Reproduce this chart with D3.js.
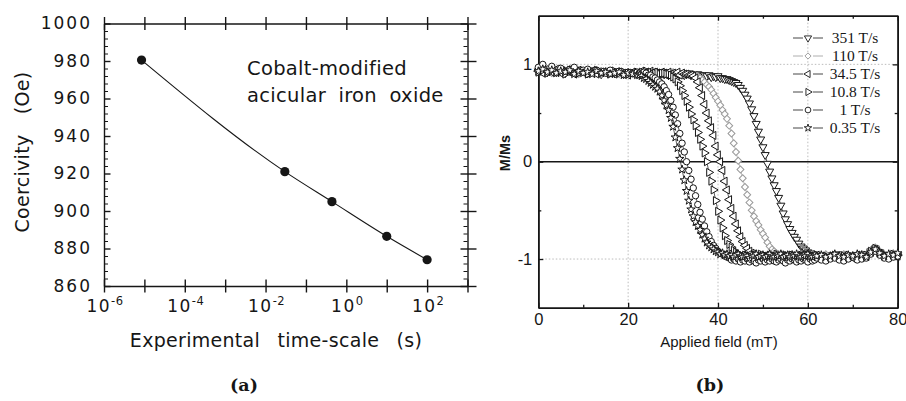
<!DOCTYPE html>
<html>
<head>
<meta charset="utf-8">
<script src="https://cdn.jsdelivr.net/npm/d3@7"></script>
<style>
  body { margin: 0; background: #fff; }
  svg { display: block; }
</style>
</head>
<body>
<svg id="chart"></svg>
<script>
// ---- panel (a): coercivity vs experimental time-scale ----
const timeScales = [8.5e-6, 0.03, 0.44, 10, 100];
const coercivity = [980.5, 921, 905, 886.5, 874];
const coerTicks = [860, 880, 900, 920, 940, 960, 980, 1000];
const timeLabelExps = [-6, -4, -2, 0, 2];

// ---- panel (b): M/Ms vs applied field, one array per sweep rate ----
const fields = [
  0,1,2,3,4,5,6,7,8,9,10,11,12,13,14,15,16,17,18,19,20,21,22,
  22.5,23,23.5,24,24.5,25,25.5,26,26.5,27,
  27.5,28,28.5,29,29.5,30,30.5,31,31.5,32,
  32.5,33,33.5,34,34.5,35,35.5,36,36.5,37,
  37.5,38,38.5,39,39.5,40,40.5,41,41.5,42,
  42.5,43,43.5,44,44.5,45,45.5,46,46.5,47,
  47.5,48,48.5,49,49.5,50,50.5,51,51.5,52,
  52.5,53,53.5,54,54.5,55,55.5,56,56.5,57,
  57.5,58,58.5,59,59.5,60,60.5,61,61.5,62,
  63,64,65,66,67,68,69,70,71,72,73,74,75,76,77,78,79,80
];
const rateLabels = ["351 T/s", "110 T/s", "34.5 T/s", "10.8 T/s", "1 T/s", "0.35 T/s"];

const m351 = [
  0.93,0.95,0.92,0.94,0.92,0.95,0.91,0.93,0.94,0.92,0.93,0.91,0.94,0.92,0.90,0.93,0.92,0.91,0.93,0.90,0.92,0.91,0.90,
  0.91,0.92,0.90,0.91,0.92,0.90,0.91,0.90,0.92,0.90,
  0.91,0.90,0.92,0.89,0.91,0.90,0.91,0.89,0.90,0.91,
  0.89,0.90,0.91,0.89,0.90,0.88,0.90,0.89,0.88,0.89,
  0.88,0.89,0.87,0.88,0.87,0.88,0.86,0.86,0.85,0.85,
  0.84,0.83,0.82,0.81,0.79,0.76,0.73,0.69,0.65,0.60,
  0.54,0.47,0.39,0.31,0.23,0.15,0.07,-0.02,-0.10,-0.17,
  -0.24,-0.30,-0.37,-0.45,-0.53,-0.59,-0.64,-0.69,-0.73,-0.77,
  -0.80,-0.84,-0.87,-0.89,-0.91,-0.93,-0.94,-0.95,-0.96,-0.96,
  -0.97,-0.96,-0.98,-0.97,-0.95,-0.97,-0.98,-0.96,-0.97,-0.95,-0.97,-0.92,-0.89,-0.93,-0.96,-0.97,-0.95,-0.96
];
const m110 = [
  0.94,0.92,0.95,0.91,0.93,0.94,0.91,0.92,0.93,0.90,0.92,0.94,0.91,0.92,0.90,0.93,0.91,0.92,0.90,0.91,0.92,0.90,0.91,
  0.92,0.91,0.93,0.90,0.92,0.91,0.90,0.92,0.91,0.90,
  0.91,0.92,0.90,0.91,0.89,0.92,0.90,0.91,0.90,0.89,
  0.91,0.90,0.90,0.90,0.89,0.89,0.88,0.86,0.84,0.82,
  0.79,0.77,0.74,0.70,0.66,0.62,0.58,0.53,0.49,0.44,
  0.37,0.29,0.19,0.10,0.01,-0.08,-0.17,-0.26,-0.34,-0.42,
  -0.50,-0.56,-0.61,-0.65,-0.70,-0.74,-0.78,-0.83,-0.87,-0.90,
  -0.92,-0.94,-0.95,-0.96,-0.95,-0.97,-0.96,-0.98,-0.95,-0.97,
  -0.96,-0.98,-0.95,-0.97,-0.96,-0.98,-0.97,-0.95,-0.97,-0.96,
  -0.97,-0.95,-0.98,-0.96,-0.97,-0.95,-0.97,-0.96,-0.98,-0.95,-0.96,-0.91,-0.88,-0.92,-0.95,-0.96,-0.94,-0.95
];
const m34 = [
  0.93,0.91,0.94,0.92,0.95,0.91,0.93,0.92,0.90,0.94,0.92,0.91,0.93,0.90,0.92,0.91,0.93,0.90,0.92,0.91,0.89,0.92,0.90,
  0.91,0.93,0.90,0.92,0.91,0.93,0.90,0.92,0.91,0.90,
  0.92,0.91,0.89,0.92,0.90,0.91,0.90,0.92,0.89,0.91,
  0.90,0.90,0.89,0.89,0.88,0.86,0.82,0.76,0.68,0.59,
  0.50,0.42,0.35,0.27,0.16,0.07,0.00,-0.09,-0.20,-0.29,
  -0.39,-0.48,-0.56,-0.64,-0.71,-0.77,-0.82,-0.86,-0.89,-0.92,
  -0.94,-0.95,-0.97,-0.96,-0.98,-0.97,-0.99,-0.96,-0.98,-0.97,
  -0.99,-0.97,-0.98,-1.00,-0.97,-0.98,-0.96,-0.99,-0.97,-0.98,
  -1.00,-0.97,-0.98,-0.96,-0.99,-0.98,-0.97,-0.99,-0.98,-0.96,
  -0.98,-0.99,-0.97,-0.98,-1.00,-0.97,-0.98,-0.99,-0.96,-0.98,-0.97,-0.93,-0.90,-0.94,-0.97,-0.98,-0.96,-0.97
];
const m108 = [
  0.92,0.94,0.91,0.95,0.92,0.93,0.90,0.94,0.92,0.91,0.93,0.90,0.92,0.94,0.91,0.92,0.90,0.93,0.91,0.92,0.90,0.91,0.92,
  0.91,0.92,0.90,0.93,0.91,0.92,0.90,0.91,0.92,0.90,
  0.91,0.91,0.90,0.90,0.89,0.87,0.85,0.82,0.78,0.73,
  0.68,0.62,0.56,0.49,0.43,0.37,0.30,0.23,0.16,0.09,
  0.00,-0.11,-0.20,-0.29,-0.40,-0.51,-0.60,-0.68,-0.76,-0.81,
  -0.85,-0.88,-0.91,-0.93,-0.95,-0.96,-0.97,-0.96,-0.98,-0.97,
  -0.99,-0.96,-0.98,-0.97,-0.95,-0.98,-0.97,-0.99,-0.96,-0.98,
  -0.97,-0.95,-0.98,-0.97,-0.99,-0.96,-0.97,-0.98,-0.96,-0.99,
  -0.97,-0.98,-0.96,-0.97,-0.99,-0.97,-0.96,-0.98,-0.97,-0.96,
  -0.98,-0.97,-0.99,-0.96,-0.98,-0.97,-0.96,-0.98,-0.97,-0.98,-0.96,-0.92,-0.89,-0.93,-0.96,-0.97,-0.95,-0.96
];
const m1 = [
  0.97,1.00,0.95,0.98,0.94,0.96,0.93,0.95,0.97,0.92,0.94,0.95,0.92,0.94,0.93,0.91,0.94,0.92,0.93,0.90,0.92,0.91,0.92,
  0.91,0.90,0.92,0.91,0.89,0.89,0.87,0.86,0.84,0.82,
  0.80,0.77,0.73,0.69,0.63,0.56,0.48,0.39,0.29,0.19,
  0.10,0.00,-0.09,-0.18,-0.27,-0.35,-0.44,-0.52,-0.59,-0.66,
  -0.72,-0.77,-0.82,-0.86,-0.89,-0.92,-0.94,-0.95,-0.97,-0.98,
  -0.99,-1.01,-1.00,-1.02,-1.00,-1.03,-1.01,-1.02,-1.00,-1.03,
  -1.01,-1.02,-1.04,-1.01,-1.02,-1.00,-1.03,-1.01,-1.02,-1.00,
  -1.02,-1.03,-1.01,-1.00,-1.02,-1.04,-1.01,-1.02,-1.00,-1.01,
  -1.03,-1.01,-1.02,-1.00,-1.01,-1.03,-1.00,-1.02,-1.01,-0.99,
  -1.01,-1.02,-1.00,-0.99,-1.01,-1.02,-1.00,-0.98,-1.01,-1.00,-0.99,-0.95,-0.92,-0.96,-0.99,-1.00,-0.98,-0.97
];
const m035 = [
  0.93,0.95,0.92,0.94,0.91,0.93,0.92,0.94,0.90,0.93,0.91,0.92,0.90,0.93,0.91,0.92,0.90,0.91,0.92,0.89,0.91,0.90,0.89,
  0.89,0.88,0.86,0.85,0.83,0.81,0.79,0.77,0.75,0.72,
  0.68,0.63,0.58,0.53,0.45,0.36,0.25,0.14,0.03,-0.08,
  -0.19,-0.30,-0.40,-0.49,-0.56,-0.62,-0.66,-0.70,-0.75,-0.79,
  -0.83,-0.86,-0.88,-0.90,-0.92,-0.93,-0.95,-0.94,-0.96,-0.95,
  -0.97,-0.96,-0.98,-0.96,-0.95,-0.97,-0.98,-0.96,-0.97,-0.99,
  -0.96,-0.97,-0.95,-0.98,-0.97,-0.96,-0.98,-0.97,-0.95,-0.97,
  -0.98,-0.96,-0.97,-0.95,-0.98,-0.97,-0.96,-0.98,-0.96,-0.97,
  -0.95,-0.97,-0.98,-0.96,-0.97,-0.95,-0.97,-0.98,-0.96,-0.97,
  -0.96,-0.98,-0.97,-0.95,-0.97,-0.98,-0.96,-0.97,-0.95,-0.96,-0.98,-0.93,-0.90,-0.94,-0.97,-0.95,-0.96,-0.94
];
const fieldTicks = [0, 20, 40, 60, 80];
const fieldMinor = [10, 30, 50, 70];
const mTicks = [-1, 0, 1];
const mMinor = [-0.5, 0.5];
const gridFields = [20, 40, 60];
const gridM = [-1, 1];

// ---------------------------------------------------------------
const W = 906, H = 401;
const ink = "#161616";
const svg = d3.select("#chart").attr("width", W).attr("height", H);
svg.append("rect").attr("width", W).attr("height", H).attr("fill", "#fff");

// ===== panel (a) =====
const xA = d3.scaleLog().domain([1e-6, 1e3]).range([104, 467.5]);
const yA = d3.scaleLinear().domain([860, 1000]).range([286, 23.5]);
const decades = d3.range(-6, 4).map(e => Math.pow(10, e));
const coerMinor = d3.range(860, 1001, 4).filter(v => v % 20 !== 0);
const gA = svg.append("g").attr("font-family", "DejaVu Sans").attr("fill", ink);

function styleAxis(g) {
  g.select(".domain").attr("stroke", ink).attr("stroke-width", 1.4);
  g.selectAll(".tick line").attr("stroke", ink).attr("stroke-width", 1.4);
}

// bottom + top with crossing decade ticks
[yA(860), yA(1000)].forEach(y => {
  gA.append("g").attr("transform", `translate(0,${y})`)
    .call(d3.axisBottom(xA).tickValues(decades).tickFormat("").tickSizeOuter(0))
    .call(styleAxis)
    .call(g => g.selectAll(".tick line").attr("y1", -6.5).attr("y2", 6.5));
});

// superscripted decade labels
const xLab = gA.append("g").attr("font-size", 17).attr("letter-spacing", 1.5);
timeLabelExps.forEach(e => {
  const t = xLab.append("text")
    .attr("x", xA(Math.pow(10, e)) + 1)
    .attr("y", 311.5)
    .attr("text-anchor", "middle");
  t.append("tspan").text("10");
  t.append("tspan").attr("dy", -7).attr("font-size", 11.5).attr("letter-spacing", 0.5)
    .text(String(e));
});

// left axis: crossing major ticks, inward minor ticks
gA.append("g").attr("transform", `translate(${xA(1e-6)},0)`)
  .call(d3.axisLeft(yA).tickValues(coerTicks).tickFormat(d => String(d))
    .tickSize(7).tickPadding(5).tickSizeOuter(0))
  .call(styleAxis)
  .call(g => g.selectAll(".tick line").attr("x2", 6.5))
  .call(g => g.selectAll(".tick text").attr("font-family", "DejaVu Sans")
    .attr("font-size", 17).attr("letter-spacing", 2).attr("fill", ink));
gA.append("g").attr("transform", `translate(${xA(1e-6)},0)`)
  .call(d3.axisLeft(yA).tickValues(coerMinor).tickFormat("").tickSize(-4).tickSizeOuter(0))
  .call(styleAxis)
  .call(g => g.select(".domain").remove())
  .call(g => g.selectAll(".tick line").attr("stroke-width", 1));

// right axis
gA.append("g").attr("transform", `translate(${xA(1e3)},0)`)
  .call(d3.axisRight(yA).tickValues(coerTicks).tickFormat("").tickSize(9).tickSizeOuter(0))
  .call(styleAxis)
  .call(g => g.selectAll(".tick line").attr("x1", -7));
gA.append("g").attr("transform", `translate(${xA(1e3)},0)`)
  .call(d3.axisRight(yA).tickValues(coerMinor).tickFormat("").tickSize(-4).tickSizeOuter(0))
  .call(styleAxis)
  .call(g => g.select(".domain").remove())
  .call(g => g.selectAll(".tick line").attr("stroke-width", 1));

// data curve + dots
const ptsA = timeScales.map((t, i) => [t, coercivity[i]]);
gA.append("path")
  .attr("d", d3.line().x(d => xA(d[0])).y(d => yA(d[1])).curve(d3.curveMonotoneX)(ptsA))
  .attr("fill", "none").attr("stroke", ink).attr("stroke-width", 1.1);
gA.selectAll("circle.pt").data(ptsA).join("circle")
  .attr("class", "pt")
  .attr("cx", d => xA(d[0])).attr("cy", d => yA(d[1])).attr("r", 4.6)
  .attr("fill", ink);

// annotations and titles
gA.append("text").attr("x", 247).attr("y", 75).attr("font-size", 19.5).attr("letter-spacing", 0.3)
  .text("Cobalt-modified");
gA.append("text").attr("x", 247).attr("y", 102).attr("font-size", 19.5).attr("letter-spacing", 0.3)
  .attr("word-spacing", 6).text("acicular iron oxide");
gA.append("text").attr("x", 276).attr("y", 346.5).attr("text-anchor", "middle")
  .attr("font-size", 19).attr("letter-spacing", 0.3).attr("word-spacing", 11)
  .text("Experimental time-scale (s)");
gA.append("text").attr("transform", "translate(29,152) rotate(-90)")
  .attr("text-anchor", "middle").attr("font-size", 19).attr("letter-spacing", 0.3)
  .attr("word-spacing", 14).text("Coercivity (Oe)");

// ===== panel (b) =====
const xB = d3.scaleLinear().domain([0, 80]).range([538.3, 897.7]);
const yB = d3.scaleLinear().domain([-1.5, 1.5]).range([307.7, 15.7]);
const gB = svg.append("g").attr("font-family", "Liberation Sans").attr("fill", ink);

// dotted grid
gB.selectAll("line.gx").data(gridFields).join("line").attr("class", "gx")
  .attr("x1", d => xB(d)).attr("x2", d => xB(d)).attr("y1", yB(1.5)).attr("y2", yB(-1.5))
  .attr("stroke", "#b4b4b4").attr("stroke-width", 0.9).attr("stroke-dasharray", "1.5,2");
gB.selectAll("line.gy").data(gridM).join("line").attr("class", "gy")
  .attr("x1", xB(0)).attr("x2", xB(80)).attr("y1", d => yB(d)).attr("y2", d => yB(d))
  .attr("stroke", "#b4b4b4").attr("stroke-width", 0.9).attr("stroke-dasharray", "1.5,2");

// zero line
gB.append("line").attr("x1", xB(0)).attr("x2", xB(80)).attr("y1", yB(0)).attr("y2", yB(0))
  .attr("stroke", ink).attr("stroke-width", 1.5);

function styleB(g) {
  g.select(".domain").attr("stroke", ink).attr("stroke-width", 1.6);
  g.selectAll(".tick line").attr("stroke", ink).attr("stroke-width", 1.3);
  g.selectAll(".tick text").attr("font-family", "Liberation Sans").attr("font-size", 16.5).attr("fill", ink);
}

gB.append("g").attr("transform", `translate(0,${yB(-1.5)})`)
  .call(d3.axisBottom(xB).tickValues(fieldTicks).tickSize(-5).tickPadding(6).tickSizeOuter(0)).call(styleB);
gB.append("g").attr("transform", `translate(0,${yB(-1.5)})`)
  .call(d3.axisBottom(xB).tickValues(fieldMinor).tickFormat("").tickSize(-3).tickSizeOuter(0)).call(styleB);
gB.append("g").attr("transform", `translate(0,${yB(1.5)})`)
  .call(d3.axisTop(xB).tickValues(fieldTicks).tickFormat("").tickSize(-5).tickSizeOuter(0)).call(styleB);
gB.append("g").attr("transform", `translate(0,${yB(1.5)})`)
  .call(d3.axisTop(xB).tickValues(fieldMinor).tickFormat("").tickSize(-3).tickSizeOuter(0)).call(styleB);
gB.append("g").attr("transform", `translate(${xB(0)},0)`)
  .call(d3.axisLeft(yB).tickValues(mTicks).tickFormat(d => String(d)).tickSize(-5).tickPadding(6).tickSizeOuter(0)).call(styleB);
gB.append("g").attr("transform", `translate(${xB(0)},0)`)
  .call(d3.axisLeft(yB).tickValues(mMinor).tickFormat("").tickSize(-3).tickSizeOuter(0)).call(styleB);
gB.append("g").attr("transform", `translate(${xB(80)},0)`)
  .call(d3.axisRight(yB).tickValues(mTicks).tickFormat("").tickSize(-5).tickSizeOuter(0)).call(styleB);
gB.append("g").attr("transform", `translate(${xB(80)},0)`)
  .call(d3.axisRight(yB).tickValues(mMinor).tickFormat("").tickSize(-3).tickSizeOuter(0)).call(styleB);

gB.append("text").attr("x", 719).attr("y", 347).attr("text-anchor", "middle")
  .attr("font-size", 15).text("Applied field (mT)");
gB.append("text").attr("transform", "translate(510,153) rotate(-90)")
  .attr("text-anchor", "middle").attr("font-size", 14.5).attr("font-weight", "bold")
  .text("M/Ms");

// series
const seriesM = [m351, m110, m34, m108, m1, m035];
const markStyle = [
  { type: d3.symbolTriangle, rot: 180, size: 28, color: ink },
  { type: d3.symbolSquare, rot: 45, size: 24, color: "#9a9a9a" },
  { type: d3.symbolTriangle, rot: -90, size: 28, color: ink },
  { type: d3.symbolTriangle, rot: 90, size: 28, color: ink },
  { type: d3.symbolCircle, rot: 0, size: 32, color: ink },
  { type: d3.symbolStar, rot: 0, size: 22, color: ink }
];
const lineB = d3.line().x(d => xB(d[0])).y(d => yB(d[1]));
const plot = gB.append("g");
d3.range(seriesM.length).forEach(si => {
  const st = markStyle[si];
  const pts = fields.map((f, i) => [f, seriesM[si][i]]).filter(d => d[1] !== undefined);
  const g = plot.append("g");
  g.append("path").attr("d", lineB(pts)).attr("fill", "none")
    .attr("stroke", st.color).attr("stroke-width", 0.7);
  g.selectAll("path.mk").data(pts).join("path").attr("class", "mk")
    .attr("d", d3.symbol().type(st.type).size(st.size))
    .attr("transform", d => `translate(${xB(d[0])},${yB(d[1])}) rotate(${st.rot})`)
    .attr("fill", "#fff").attr("stroke", st.color).attr("stroke-width", 1);
});

// legend
const leg = gB.append("g");
rateLabels.forEach((lab, i) => {
  const st = markStyle[i];
  const y = 38 + i * 18;
  leg.append("line").attr("x1", 793).attr("x2", 803).attr("y1", y).attr("y2", y)
    .attr("stroke", st.color).attr("stroke-width", 0.8);
  leg.append("line").attr("x1", 813).attr("x2", 823).attr("y1", y).attr("y2", y)
    .attr("stroke", st.color).attr("stroke-width", 0.8);
  leg.append("path").attr("d", d3.symbol().type(st.type).size(st.size * 0.8))
    .attr("transform", `translate(808,${y}) rotate(${st.rot})`)
    .attr("fill", "#fff").attr("stroke", st.color).attr("stroke-width", 0.9);
  leg.append("text").attr("x", 855).attr("y", y + 5).attr("text-anchor", "middle")
    .attr("font-family", "Liberation Serif").attr("font-size", 15.5).text(lab);
});

// panel captions
svg.append("text").attr("x", 244).attr("y", 391).attr("text-anchor", "middle")
  .attr("font-family", "DejaVu Serif").attr("font-weight", "bold").attr("font-size", 17.5)
  .attr("fill", ink).text("(a)");
svg.append("text").attr("x", 710).attr("y", 391).attr("text-anchor", "middle")
  .attr("font-family", "DejaVu Serif").attr("font-weight", "bold").attr("font-size", 17.5)
  .attr("fill", ink).text("(b)");
</script>
</body>
</html>
